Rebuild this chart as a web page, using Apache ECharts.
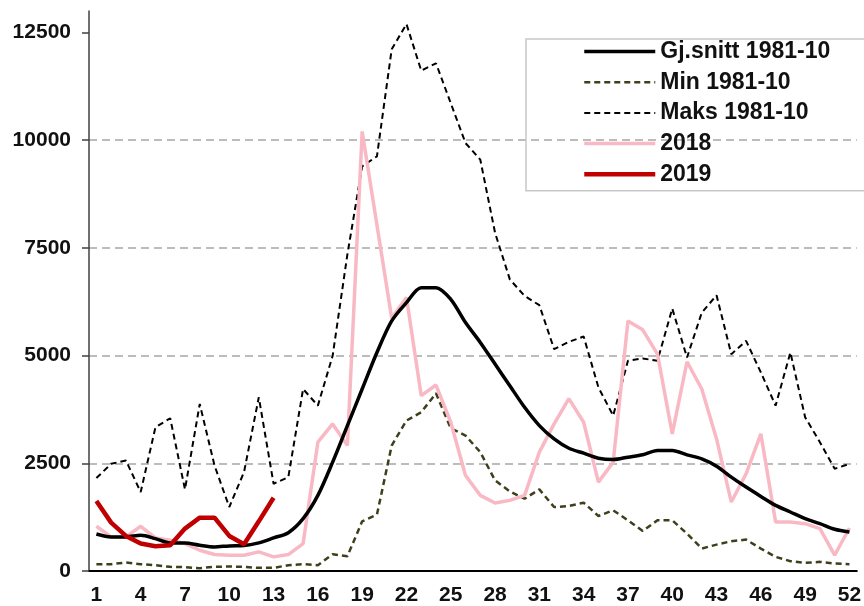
<!DOCTYPE html>
<html>
<head>
<meta charset="utf-8">
<script src="https://cdn.jsdelivr.net/npm/echarts@6/dist/echarts.min.js"></script>
<style>
  html, body { margin: 0; padding: 0; background: #fff; }
  #chart { width: 864px; height: 606px; }
</style>
</head>
<body>
<div id="chart"></div>
<script>
// uke 1-52
var weeks = [];
for (var i = 1; i <= 52; i++) weeks.push(String(i));

var yTicks = [0, 2500, 5000, 7500, 10000, 12500];

var snitt = [860, 791, 791, 830, 752, 652, 652, 598, 559, 583, 590, 652, 768, 890,
  1215, 1755, 2527, 3376, 4225, 5073, 5806, 6231, 6578, 6578, 6308, 5768, 5305, 4803,
  4302, 3800, 3376, 3067, 2850, 2735, 2619, 2588, 2643, 2697, 2797, 2797, 2697, 2604,
  2434, 2180, 1948, 1732, 1524, 1370, 1215, 1099, 968, 907];

var minVal = [158, 158, 197, 158, 135, 96, 89, 66, 96, 104, 96, 73, 73, 135,
  158, 135, 390, 343, 1153, 1307, 2913, 3492, 3685, 4125, 3314, 3144, 2759, 2103,
  1848, 1678, 1894, 1485, 1508, 1586, 1277, 1408, 1177, 930, 1177, 1177, 868, 521,
  613, 691, 729, 521, 328, 228, 189, 212, 174, 158];

var maks = [2157, 2488, 2565, 1833, 3337, 3546, 1894, 3877, 2450, 1485, 2296, 4032, 2025, 2180,
  4225, 3839, 4996, 7350, 9394, 9626, 12111, 12697, 11616, 11786, 10860, 9934, 9548, 7851,
  6771, 6385, 6170, 5151, 5320, 5444, 4263, 3607, 4880, 4934, 4880, 6092, 4957, 5999,
  6400, 5034, 5343, 4610, 3839, 5073, 3569, 2990, 2373, 2488];

var y2018 = [1038, 791, 791, 1038, 768, 714, 637, 482, 382, 367, 367, 444, 328, 382,
  637, 2990, 3414, 2913, 10204, 8030, 5870, 6350, 4070, 4317, 3453, 2218, 1755, 1578,
  1640, 1755, 2759, 3414, 4000, 3453, 2064, 2527, 5806, 5598, 5034, 3183, 4858, 4225,
  3067, 1601, 2257, 3183, 1138, 1138, 1099, 984, 367, 999];

var y2019 = [1624, 1123, 814, 637, 575, 598, 984, 1238, 1238, 814, 621, 1153, 1701];

var fontFam = '"Liberation Sans", Arial, sans-serif';

var chart = echarts.init(document.getElementById('chart'));

chart.setOption({
  animation: false,
  backgroundColor: '#fff',
  grid: { left: 89, right: -5, top: 11, bottom: 33.5 },
  legend: {
    orient: 'vertical',
    left: 526,
    top: 39,
    padding: [1, 40, 5, 56],
    itemWidth: 71,
    itemHeight: 10,
    itemGap: 7.7,
    borderColor: '#c8c8c8',
    borderWidth: 1.5,
    itemStyle: { opacity: 0 },
    lineStyle: { width: 'inherit' },
    textStyle: { fontFamily: fontFam, fontWeight: 'bold', fontSize: 23, color: '#111', lineHeight: 23 },
    data: ['Gj.snitt 1981-10', 'Min 1981-10', 'Maks 1981-10', '2018', '2019']
  },
  xAxis: {
    type: 'category',
    data: weeks,
    boundaryGap: true,
    axisLine: { lineStyle: { color: '#000', width: 2 } },
    axisTick: { interval: 0, length: 6, lineStyle: { color: '#000', width: 2 } },
    axisLabel: {
      interval: 2, margin: 14,
      fontFamily: fontFam, fontWeight: 'bold', fontSize: 21, color: '#111'
    },
    splitLine: { show: false }
  },
  yAxis: {
    type: 'value',
    min: 0,
    max: 13000,
    interval: 2500,
    axisLine: { show: true, lineStyle: { color: '#404040', width: 1.5 } },
    axisTick: { show: true, length: 7, customValues: yTicks, lineStyle: { color: '#404040', width: 1.5 } },
    axisLabel: {
      margin: 18, showMaxLabel: false,
      formatter: function (v) { return String(v); },
      fontFamily: fontFam, fontWeight: 'bold', fontSize: 21, color: '#111'
    },
    splitLine: { show: true, showMinLine: false, showMaxLine: false, lineStyle: { color: '#a6a6a6', width: 1.5, type: [8, 5] } }
  },
  series: [
    {
      name: 'Gj.snitt 1981-10', type: 'line', data: snitt, symbol: 'none', smooth: 0.3,
      lineStyle: { color: '#000', width: 3.5 }, itemStyle: { color: '#000' }, z: 3
    },
    {
      name: 'Min 1981-10', type: 'line', data: minVal, symbol: 'none',
      lineStyle: { color: '#3f3f1c', width: 2.5, type: [6, 4] }, itemStyle: { color: '#3f3f1c' }, z: 2
    },
    {
      name: 'Maks 1981-10', type: 'line', data: maks, symbol: 'none',
      lineStyle: { color: '#000', width: 2, type: [6, 4] }, itemStyle: { color: '#000' }, z: 2
    },
    {
      name: '2018', type: 'line', data: y2018, symbol: 'none',
      lineStyle: { color: '#f9b9c4', width: 3.5 }, itemStyle: { color: '#f9b9c4' }, z: 2
    },
    {
      name: '2019', type: 'line', data: y2019, symbol: 'none',
      lineStyle: { color: '#c00000', width: 4.5 }, itemStyle: { color: '#c00000' }, z: 4
    }
  ]
});
</script>
</body>
</html>
